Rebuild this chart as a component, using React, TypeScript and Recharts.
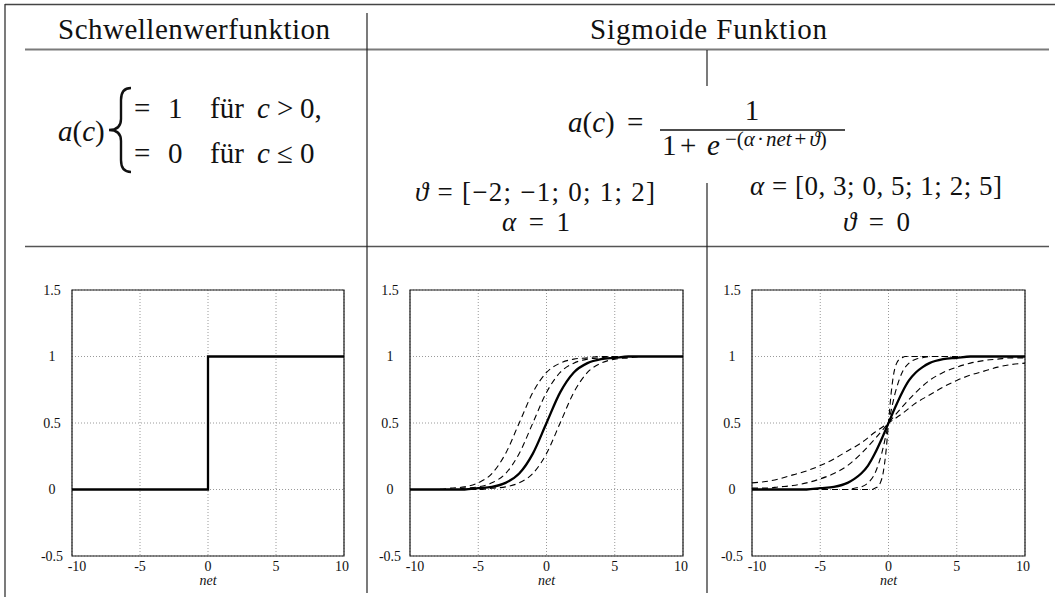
import React from "react"
import { LineChart, Line, XAxis, YAxis, CartesianGrid, ReferenceArea } from "recharts"

const serif = "Liberation Serif, DejaVu Serif, serif"

// axis ticks shared by all three panels
const netTicks = [-10, -5, 0, 5, 10]
const actTicks = [-0.5, 0, 0.5, 1, 1.5]

// Schwellenwertfunktion
const stepNet = [-10, 0, 0, 10]
const stepAct = [0, 0, 1, 1]

// Sigmoide, alpha = 1, verschiedene theta
const thetaNet = [-10, -9, -8, -7, -6, -5, -4, -3, -2, -1, 0, 1, 2, 3, 4, 5, 6, 7, 8, 9, 10]
const thetaPlus2 = [0, 0, 0, 0.01, 0.02, 0.05, 0.12, 0.27, 0.5, 0.73, 0.88, 0.95, 0.98, 0.99, 1, 1, 1, 1, 1, 1, 1]
const thetaPlus1 = [0, 0, 0, 0, 0.01, 0.02, 0.05, 0.12, 0.27, 0.5, 0.73, 0.88, 0.95, 0.98, 0.99, 1, 1, 1, 1, 1, 1]
const thetaZero = [0, 0, 0, 0, 0, 0.01, 0.02, 0.05, 0.12, 0.27, 0.5, 0.73, 0.88, 0.95, 0.98, 0.99, 1, 1, 1, 1, 1]
const thetaMinus1 = [0, 0, 0, 0, 0, 0, 0.01, 0.02, 0.05, 0.12, 0.27, 0.5, 0.73, 0.88, 0.95, 0.98, 0.99, 1, 1, 1, 1]

// Sigmoide, theta = 0, verschiedene alpha
const alphaNet = [-10, -9, -8, -7, -6, -5, -4, -3, -2, -1, 0, 1, 2, 3, 4, 5, 6, 7, 8, 9, 10]
const alpha03 = [0.05, 0.06, 0.08, 0.11, 0.14, 0.18, 0.23, 0.29, 0.35, 0.43, 0.5, 0.57, 0.65, 0.71, 0.77, 0.82, 0.86, 0.89, 0.92, 0.94, 0.95]
const alpha05 = [0.01, 0.01, 0.02, 0.03, 0.05, 0.08, 0.12, 0.18, 0.27, 0.38, 0.5, 0.62, 0.73, 0.82, 0.88, 0.92, 0.95, 0.97, 0.98, 0.99, 0.99]
const alpha1Net = [-10, -8, -6, -5, -4, -3, -2.5, -2, -1.5, -1, -0.5, 0, 0.5, 1, 1.5, 2, 2.5, 3, 4, 5, 6, 8, 10]
const alpha1 = [0, 0, 0, 0.01, 0.02, 0.05, 0.08, 0.12, 0.18, 0.27, 0.38, 0.5, 0.62, 0.73, 0.82, 0.88, 0.92, 0.95, 0.98, 0.99, 1, 1, 1]
const alpha2Net = [-10, -5, -4, -3, -2.5, -2, -1.5, -1, -0.5, 0, 0.5, 1, 1.5, 2, 2.5, 3, 4, 5, 10]
const alpha2 = [0, 0, 0, 0, 0.01, 0.02, 0.05, 0.12, 0.27, 0.5, 0.73, 0.88, 0.95, 0.98, 0.99, 1, 1, 1, 1]
const alpha5Net = [-10, -2, -1.4, -1.2, -1, -0.8, -0.6, -0.4, -0.2, 0, 0.2, 0.4, 0.6, 0.8, 1, 1.2, 1.4, 2, 10]
const alpha5 = [0, 0, 0, 0, 0.01, 0.02, 0.05, 0.12, 0.27, 0.5, 0.73, 0.88, 0.95, 0.98, 0.99, 1, 1, 1, 1]

const rows = (net: number[], act: number[]) => net.map((n, i) => ({ net: n, a: act[i] }))

type Series = { id: string; data: { net: number; a: number }[]; dashed?: boolean; curve?: "linear" | "monotone" }

const stepSeries: Series[] = [{ id: "step", data: rows(stepNet, stepAct), curve: "linear" }]

const thetaSeries: Series[] = [
  { id: "t2", data: rows(thetaNet, thetaPlus2), dashed: true },
  { id: "t1", data: rows(thetaNet, thetaPlus1), dashed: true },
  { id: "tm1", data: rows(thetaNet, thetaMinus1), dashed: true },
  { id: "t0", data: rows(thetaNet, thetaZero) },
]

const alphaSeries: Series[] = [
  { id: "a03", data: rows(alphaNet, alpha03), dashed: true },
  { id: "a05", data: rows(alphaNet, alpha05), dashed: true },
  { id: "a2", data: rows(alpha2Net, alpha2), dashed: true },
  { id: "a5", data: rows(alpha5Net, alpha5), dashed: true },
  { id: "a1", data: rows(alpha1Net, alpha1) },
]

const tickFont = { fontFamily: serif, fontSize: 14 }

function NetTick(props: any) {
  const v = props.payload.value
  const nudge = v === -10 ? 5 : v === 10 ? -2 : 0
  return (
    <text x={props.x + nudge} y={props.y} dy="0.71em" textAnchor="middle" style={tickFont} fill="#111">
      {v}
    </text>
  )
}

function ActTick(props: any) {
  return (
    <text x={props.x - 20} y={props.y} dy="0.35em" textAnchor="middle" style={tickFont} fill="#111">
      {props.payload.value}
    </text>
  )
}

function Panel({ left, ml, mr, series }: { left: number; ml: number; mr: number; series: Series[] }) {
  return (
    <div style={{ position: "absolute", left, top: 280 }}>
      <LineChart width={350} height={320} margin={{ top: 10, right: mr, bottom: 14, left: ml }}>
        <CartesianGrid stroke="#9a9a9a" strokeDasharray="1 2" />
        <XAxis
          type="number"
          dataKey="net"
          domain={[-10, 10]}
          ticks={netTicks}
          interval={0}
          allowDataOverflow
          height={30}
          tickSize={0}
          tickMargin={5}
          axisLine={false}
          tick={NetTick}
          label={{ value: "net", position: "insideBottom", offset: 1, style: { fontFamily: serif, fontSize: 14, fontStyle: "italic" }, fill: "#111" }}
        />
        <YAxis
          type="number"
          domain={[-0.5, 1.5]}
          ticks={actTicks}
          interval={0}
          allowDataOverflow
          width={30}
          tickSize={0}
          tickMargin={0}
          axisLine={false}
          tick={ActTick}
        />
        <ReferenceArea x1={-10} x2={10} y1={-0.5} y2={1.5} fill="none" fillOpacity={0} stroke="#1a1a1a" strokeWidth={1.2} />
        {series.map((s) => (
          <Line
            key={s.id}
            data={s.data}
            dataKey="a"
            type={s.curve ?? "monotone"}
            stroke="#000"
            strokeWidth={s.dashed ? 1.1 : 2.3}
            strokeDasharray={s.dashed ? "6 4" : undefined}
            dot={false}
            activeDot={false}
            isAnimationActive={false}
          />
        ))}
      </LineChart>
    </div>
  )
}

const I = ({ children }: { children: React.ReactNode }) => <tspan fontStyle="italic">{children}</tspan>

function Table() {
  const t = { style: { fontFamily: serif, fontSize: 29 }, fill: "#111" }
  const p = { style: { fontFamily: serif, fontSize: 27 }, fill: "#111", lengthAdjust: "spacing" as const }
  const sup = { style: { fontFamily: serif, fontSize: 21 }, fill: "#111" }
  return (
    <svg width={1055} height={604} style={{ position: "absolute", left: 0, top: 0 }}>
      {/* rules */}
      <line x1={5} y1={4.5} x2={1055} y2={4.5} stroke="#444" strokeWidth={1.6} />
      <line x1={25} y1={49.5} x2={1049} y2={49.5} stroke="#7a7a7a" strokeWidth={2} />
      <line x1={25} y1={246.5} x2={1049} y2={246.5} stroke="#555" strokeWidth={1.5} />
      <line x1={5} y1={4} x2={5} y2={597} stroke="#333" strokeWidth={1.3} />
      <line x1={367} y1={13} x2={367} y2={593} stroke="#222" strokeWidth={1.2} />
      <line x1={707} y1={50} x2={707} y2={86} stroke="#222" strokeWidth={1.2} />
      <line x1={707} y1={183} x2={707} y2={593} stroke="#222" strokeWidth={1.2} />

      {/* headers */}
      <text x={58} y={39} textLength={272} lengthAdjust="spacing" {...t}>Schwellenwerfunktion</text>
      <text x={590} y={39} textLength={237} lengthAdjust="spacing" {...t}>Sigmoide Funktion</text>

      {/* threshold definition */}
      <text x={58} y={141} {...t}><I>a</I>(<I>c</I>)</text>
      <path d="M 131 88 Q 121 88 121 100 L 121 119 Q 121 130 109 130 Q 121 130 121 141 L 121 160 Q 121 172 131 172" fill="none" stroke="#111" strokeWidth={2.4} />
      <text x={134} y={118} {...t}>=</text>
      <text x={168} y={118} {...t}>1</text>
      <text x={210} y={118} {...t}>für</text>
      <text x={257} y={118} {...t}><I>c</I></text>
      <text x={277} y={118} {...t}>&gt;</text>
      <text x={300} y={118} {...t}>0,</text>
      <text x={134} y={163} {...t}>=</text>
      <text x={168} y={163} {...t}>0</text>
      <text x={210} y={163} {...t}>für</text>
      <text x={257} y={163} {...t}><I>c</I></text>
      <text x={277} y={163} {...t}>≤</text>
      <text x={300} y={163} {...t}>0</text>

      {/* sigmoid definition */}
      <text x={568} y={132} {...t}><I>a</I>(<I>c</I>)</text>
      <text x={627} y={132} {...t}>=</text>
      <text x={752} y={120} textAnchor="middle" {...t}>1</text>
      <line x1={660} y1={130} x2={845} y2={130} stroke="#111" strokeWidth={1.3} />
      <text x={662} y={155} {...t}>1</text>
      <text x={680} y={155} {...t}>+</text>
      <text x={707} y={155} {...t}><I>e</I></text>
      <text x={725} y={146} {...sup}>
        −(<I>α</I><tspan dx={2}>·</tspan><tspan dx={2} fontStyle="italic">net</tspan><tspan dx={3}>+</tspan><tspan dx={3} fontStyle="italic">ϑ</tspan>)
      </text>

      {/* parameter sets */}
      <text x={415} y={201} textLength={240} {...p}><I>ϑ</I> = [−2; −1; 0; 1; 2]</text>
      <text x={502} y={231} textLength={68} {...p}><I>α</I> = 1</text>
      <text x={750} y={195} textLength={252} {...p}><I>α</I> = [0, 3; 0, 5; 1; 2; 5]</text>
      <text x={843} y={231} textLength={67} {...p}><I>ϑ</I> = 0</text>
    </svg>
  )
}

export default function App() {
  return (
    <div style={{ position: "absolute", left: 0, top: 0, width: 1055, height: 604, background: "#fff" }}>
      <Table />
      <Panel left={0} ml={42} mr={6} series={stepSeries} />
      <Panel left={340} ml={40} mr={7} series={thetaSeries} />
      <Panel left={690} ml={32} mr={15} series={alphaSeries} />
    </div>
  )
}
